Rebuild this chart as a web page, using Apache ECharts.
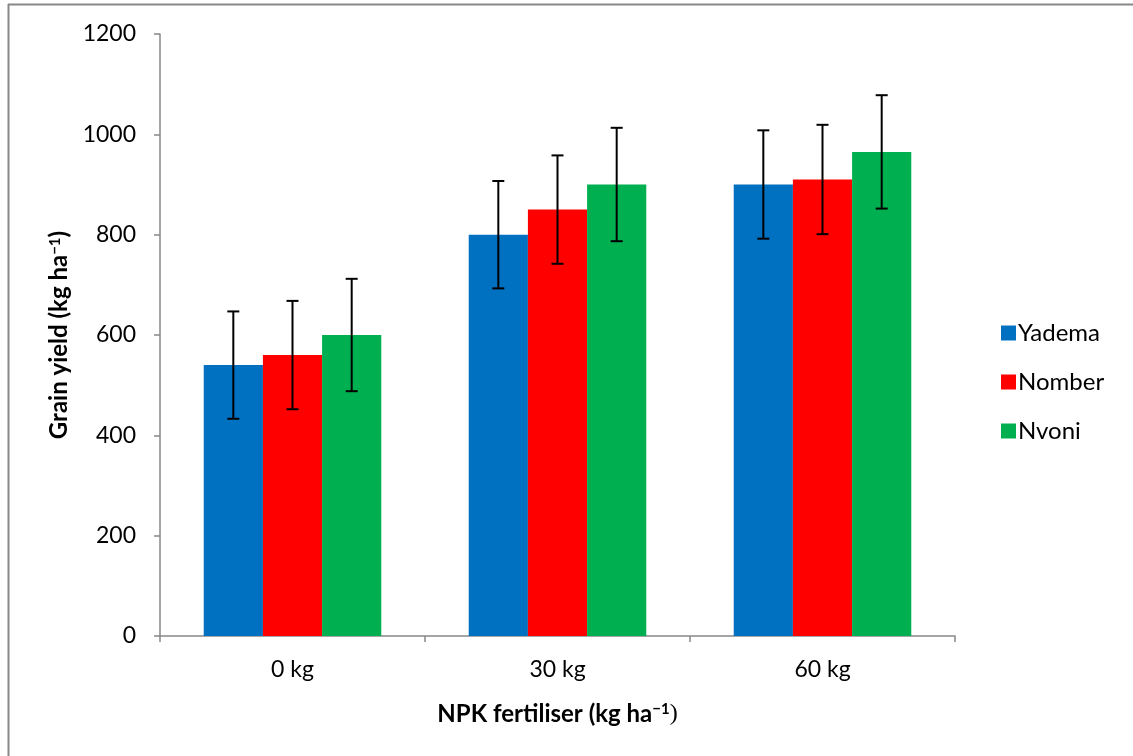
<!DOCTYPE html>
<html><head><meta charset="utf-8">
<script src="https://cdn.jsdelivr.net/npm/echarts@6/dist/echarts.min.js"></script>
<style>html,body{margin:0;padding:0;background:#fff}#c{width:1133px;height:756px}</style>
</head><body><div id="c"></div>
<script>
const categories = ['0 kg', '30 kg', '60 kg'];
const seriesNames = ['Yadema', 'Nomber', 'Nvoni'];
const yadema = [540, 800, 900];
const nomber = [560, 850, 910];
const nvoni = [600, 900, 965];
const yademaErr = [107, 107, 108];
const nomberErr = [108, 108, 109];
const nvoniErr = [112, 113, 113];
const colors = ['#0070C0', '#FF0000', '#00B050'];
const yTicks = { min: 0, max: 1200, interval: 200 };

const values = [yadema, nomber, nvoni];
const errs = [yademaErr, nomberErr, nvoniErr];
const FONT = 'Lato, "Open Sans", sans-serif';

const chart = echarts.init(document.getElementById('c'));
const series = [];
seriesNames.forEach((n, i) => {
  series.push({
    name: n, type: 'bar', data: values[i], barGap: '0%', barCategoryGap: '33%',
    itemStyle: { color: colors[i] }, z: 2
  });
});
seriesNames.forEach((n, i) => {
  series.push({
    type: 'custom', name: n + ' err', z: 5, silent: true,
    data: values[i].map((v, k) => [k, v, errs[i][k]]),
    renderItem: function (params, api) {
      const k = api.value(0), v = api.value(1), e = api.value(2);
      const size = api.size([1, 0]);
      const catW = size[0];
      const barW = catW * 0.67 / 3;
      const c = api.coord([k, v]);
      const x = c[0] - catW * 0.67 / 2 + barW * (i + 0.5);
      const top = api.coord([k, v + e])[1];
      const bot = api.coord([k, v - e])[1];
      const cap = 6;
      const st = { stroke: '#000', lineWidth: 2 };
      return { type: 'group', children: [
        { type: 'line', shape: { x1: x, y1: top, x2: x, y2: bot }, style: st },
        { type: 'line', shape: { x1: x - cap, y1: top, x2: x + cap, y2: top }, style: st },
        { type: 'line', shape: { x1: x - cap, y1: bot, x2: x + cap, y2: bot }, style: st }
      ]};
    }
  });
});

const titleRich = {
  a: { fontFamily: FONT, fontSize: 24, fontWeight: 'bold', color: '#000', verticalAlign: 'bottom', lineHeight: 29 },
  s: { fontFamily: FONT, fontSize: 15, fontWeight: 'bold', color: '#000', verticalAlign: 'bottom', lineHeight: 29, padding: [0, 0, 9, 0] },
  p: { fontFamily: '"Liberation Serif", serif', fontSize: 24, color: '#000', verticalAlign: 'bottom', lineHeight: 29 }
};

chart.setOption({
  animation: false,
  backgroundColor: '#fff',
  graphic: [
    { type: 'line', shape: { x1: 8.5, y1: 4, x2: 8.5, y2: 756 }, style: { stroke: '#888', lineWidth: 2 } },
    { type: 'line', shape: { x1: 8, y1: 4.5, x2: 1133, y2: 4.5 }, style: { stroke: '#888', lineWidth: 2 } }
  ],
  grid: { left: 160, right: 178, top: 34, bottom: 120 },
  legend: {
    orient: 'vertical', left: 996, top: 315, itemWidth: 15, itemHeight: 15, itemGap: 23,
    data: seriesNames, icon: 'rect',
    textStyle: { fontFamily: FONT, fontSize: 24, color: '#000', lineHeight: 26, padding: [0, 0, 0, -3] }
  },
  xAxis: {
    type: 'category', data: categories,
    axisLine: { lineStyle: { color: '#888', width: 1.5 } },
    axisTick: { show: true, length: 6, lineStyle: { color: '#888', width: 1.5 } },
    axisLabel: { fontFamily: FONT, fontSize: 23, color: '#000', margin: 22 },
    name: '{a|NPK fertiliser (kg ha}{s|−1}{p|)}', nameLocation: 'middle', nameGap: 61,
    nameTextStyle: { rich: titleRich }
  },
  yAxis: {
    type: 'value', min: yTicks.min, max: yTicks.max, interval: yTicks.interval,
    axisLine: { show: true, lineStyle: { color: '#888', width: 1.5 } },
    axisTick: { show: true, length: 6, lineStyle: { color: '#888', width: 1.5 } },
    splitLine: { show: false },
    axisLabel: { fontFamily: FONT, fontSize: 23, color: '#000', margin: 24, formatter: v => String(v) },
    name: '{a|Grain yield (kg ha}{s|−1}{a|)}', nameLocation: 'middle', nameGap: 88, nameRotate: 90,
    nameTextStyle: { rich: titleRich }
  },
  series: series
});
</script></body></html>
